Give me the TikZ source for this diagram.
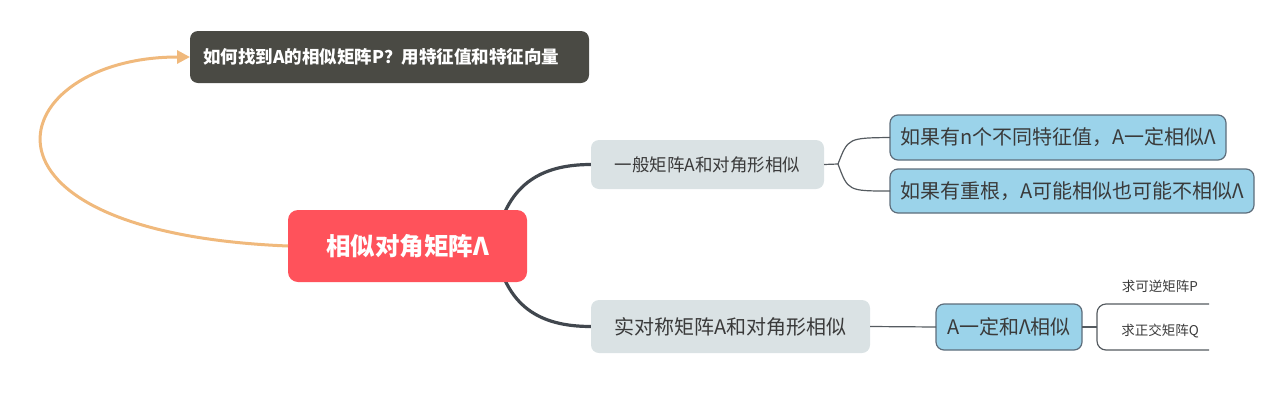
\documentclass[tikz,border=0pt]{standalone}
\usepackage{fontspec}
\setmainfont{Noto Sans CJK SC}
\usetikzlibrary{arrows.meta,backgrounds}
\definecolor{darkbox}{HTML}{4A4A44}
\definecolor{redbox}{HTML}{FF525B}
\definecolor{orangeline}{HTML}{F0B97C}
\definecolor{graybox}{HTML}{DAE2E4}
\definecolor{bluebox}{HTML}{9BD3EA}
\definecolor{blueborder}{HTML}{5D6D7B}
\definecolor{thickline}{HTML}{41474E}
\definecolor{thinline}{HTML}{555B60}
\definecolor{txt}{HTML}{3A3A3A}
\tikzset{
  base/.style={inner sep=0pt, outer sep=0pt, align=center},
  topbox/.style={base, fill=darkbox, rounded corners=8pt, text=white,
    font=\fontsize{17.5}{21}\selectfont\bfseries},
  rootbox/.style={base, fill=redbox, rounded corners=10pt, text=white,
    font=\fontsize{24.5}{29}\selectfont\bfseries},
  graynode/.style={base, fill=graybox, rounded corners=8pt, text=txt},
  bluenode/.style={base, fill=bluebox, draw=blueborder, line width=1.2pt,
    rounded corners=8pt, text=txt, font=\fontsize{20}{24}\selectfont},
  small/.style={base, text=txt, font=\fontsize{13.5}{16}\selectfont},
  thick conn/.style={draw=thickline, line width=3.2pt},
  thin conn/.style={draw=thinline, line width=1.2pt},
}
\begin{document}
\begin{tikzpicture}[x=1pt,y=-1pt]
\useasboundingbox (0,0) rectangle (1266,410);
% nodes
\node[topbox, anchor=west, inner xsep=13pt, text width=373pt, align=left,
  minimum height=52pt] (q) at (190,57) {如何找到A的相似矩阵P？用特征值和特征向量};
\node[rootbox, minimum width=239pt, minimum height=72pt] (root) at (407.5,246) {相似对角矩阵Λ};
\coordinate (hub) at (495,246);
\node[graynode, minimum width=233pt, minimum height=49pt,
  font=\fontsize{17.5}{21}\selectfont] (gen) at (707.5,164.5) {一般矩阵A和对角形相似};
\node[graynode, minimum width=279pt, minimum height=53pt,
  font=\fontsize{20}{24}\selectfont] (sym) at (730.5,326.5) {实对称矩阵A和对角形相似};
\node[bluenode, minimum width=336pt, minimum height=45pt] (b1) at (1058,137.5) {如果有n个不同特征值，A一定相似Λ};
\node[bluenode, minimum width=364pt, minimum height=44pt] (b2) at (1072,191) {如果有重根，A可能相似也可能不相似Λ};
\node[bluenode, minimum width=146pt, minimum height=46pt] (must) at (1009,327) {A一定和Λ相似};
\coordinate (j1) at (838,164);
\coordinate (j2) at (1097,327);
\coordinate (bt) at (1209,304);
\coordinate (bb) at (1209,350);
\node[small] (p) at (1160,286) {求可逆矩阵P};
\node[small] (qq) at (1160,331) {求正交矩阵Q};
% connectors
\begin{scope}[on background layer]
\draw[thick conn] (hub) .. controls (505,185) and (540,164.5) .. (gen.west);
\draw[thick conn] (hub) .. controls (505,307) and (540,326.5) .. (sym.west);
\end{scope}
\draw[orangeline, line width=3pt, -{Triangle[length=13pt,width=13pt]}]
  (root.west) .. controls (-52,232) and (5,57) .. (q.west);
\draw[thin conn] (gen.east) -- (j1);
\draw[thin conn] (j1) .. controls (848,138) .. (b1.west);
\draw[thin conn] (j1) .. controls (848,191) .. (b2.west);
\draw[thin conn] (sym.east) -- (must.west);
\draw[thin conn] (must.east) -- (j2);
\draw[thin conn, rounded corners=9pt] (bt) -- (j2 |- bt) -- (j2 |- bb) -- (bb);
\end{tikzpicture}
\end{document}
